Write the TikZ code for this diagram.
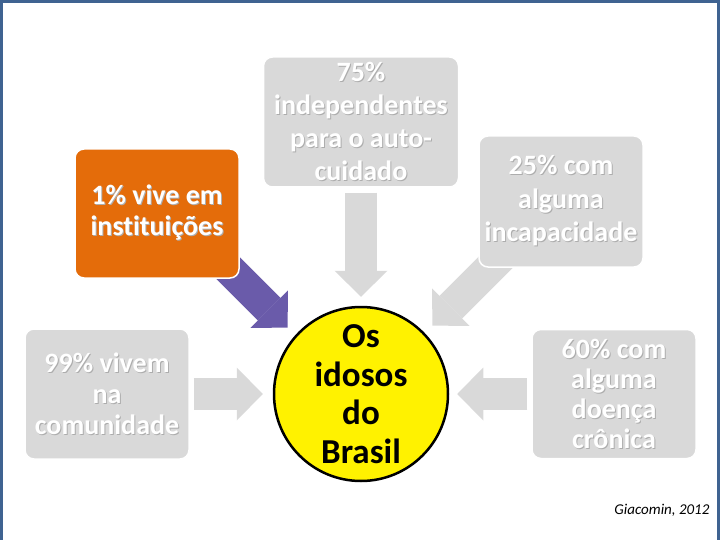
\documentclass[tikz,border=0pt]{standalone}
\usepackage{fontspec}
\setmainfont[RawFeature={-liga;-dlig}]{Carlito}
\usetikzlibrary{positioning,arrows.meta,backgrounds}
\definecolor{borange}{HTML}{E46C0A}
\definecolor{bgray}{HTML}{D9D9D9}
\definecolor{bpurple}{HTML}{6A5BAA}
\definecolor{bframe}{HTML}{3F6391}
\newcommand{\shd}[1]{\leavevmode\rlap{\kern1pt\raisebox{-1pt}{\color{black!32}#1}}#1}

\begin{document}
\begin{tikzpicture}[x=1pt, y=-1pt,
  box/.style={draw=white, line width=1.5pt, rounded corners=9pt, fill=bgray, text=white, inner sep=0pt, align=center,
    minimum width=164pt, minimum height=130pt, font=\fontsize{28}{31}\selectfont\bfseries},
  blk/.style={line width=32pt, draw=bgray, -{Triangle[length=26pt, width=53pt, line width=0pt]}}]
\useasboundingbox (0,0) rectangle (720,540);
\draw[bframe, line width=3pt] (1.5,540) -- (1.5,1.5) -- (718.5,1.5) -- (718.5,540);
% centre
\node[circle, draw=black, line width=2.5pt, fill=yellow, minimum size=174pt, inner sep=0pt, align=center,
  font=\fontsize{35}{38.5}\selectfont\bfseries] (idosos) at (361,394) {Os\\idosos\\do\\Brasil};
% boxes round it
\node[box, minimum width=195pt, font=\fontsize{28}{33}\selectfont\bfseries, above=118pt of idosos] (auto)
  {\shd{75\%}\\\shd{independentes}\\\shd{para o auto-}\\\shd{cuidado}};
\node[box, left=83pt of idosos] (com) {\shd{99\% vivem}\\\shd{na}\\\shd{comunidade}};
\node[box, minimum height=129pt, font=\fontsize{28}{30}\selectfont\bfseries, right=82pt of idosos] (doe)
  {\shd{60\% com}\\\shd{alguma}\\\shd{doença}\\\shd{crônica}};
\node[box, fill=borange, minimum height=129pt, font=\fontsize{28}{30}\selectfont\bfseries] (inst) at (157,213.5)
  {\shd{1\% vive em}\\[1pt]\shd{instituições}};
\node[box, minimum height=131pt, font=\fontsize{28}{33.5}\selectfont\bfseries] (inc) at (561,201.5)
  {\shd{25\% com}\\\shd{alguma}\\\shd{incapacidade}};
\node[anchor=east, font=\fontsize{15}{18}\selectfont\itshape] (ref) at (713,510) {Giacomin, 2012};
% arrows
\begin{scope}[on background layer]
\draw[blk] ([yshift=-5pt]auto.south) -- ([yshift=9pt]idosos.north);
\draw[blk] ([xshift=4pt]com.east) -- ([xshift=-10pt]idosos.west);
\draw[blk] ([xshift=-4pt]doe.west) -- ([xshift=8pt]idosos.east);
\draw[blk, draw=bpurple] ([shift={(-15pt,14pt)}]inst.south east) -- ([shift={(-11pt,4pt)}]idosos.135);
\draw[blk] ([shift={(26pt,14pt)}]inc.south west) -- ([shift={(9pt,6pt)}]idosos.45);
\end{scope}
\end{tikzpicture}
\end{document}
